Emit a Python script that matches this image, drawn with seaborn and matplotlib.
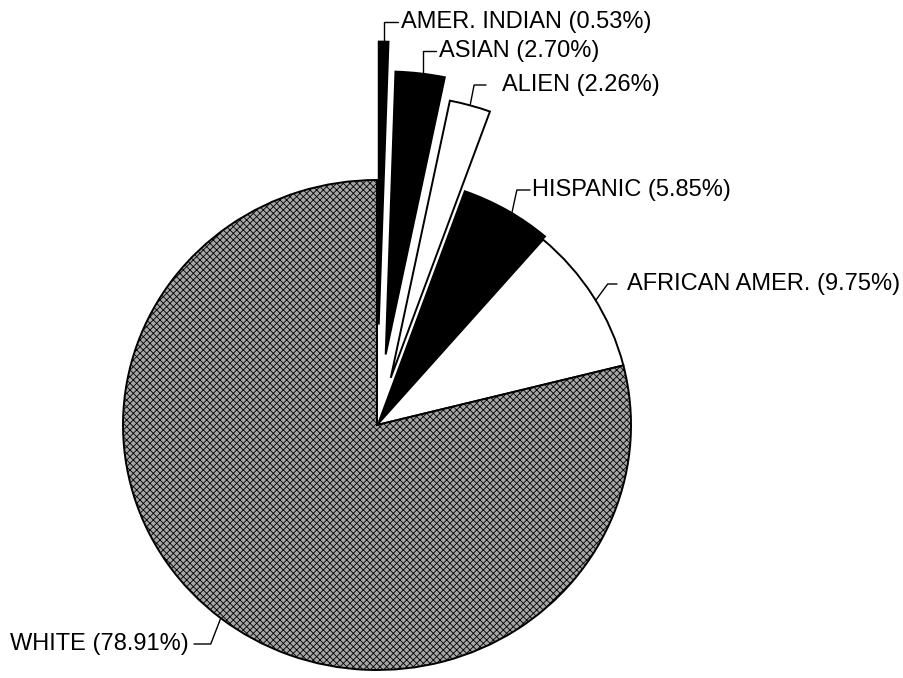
import numpy as np
import matplotlib
matplotlib.use("Agg")
import matplotlib.pyplot as plt
import seaborn as sns

# data
groups = ["AMER. INDIAN", "ASIAN", "ALIEN", "HISPANIC", "AFRICAN AMER.", "WHITE"]
shares = [0.53, 2.70, 2.26, 5.85, 9.75, 78.91]
fills = ["black", "black", "white", "black", "white", "#a6a6a6"]
explode = [0.41, 0.29, 0.20, 0.015, 0.0, 0.0]
grow = [1.155, 1.155, 1.155, 1.0, 1.0, 1.0]

sns.set_theme(style="white")
plt.rcParams["font.family"] = ["Liberation Sans", "DejaVu Sans"]
plt.rcParams["hatch.linewidth"] = 0.6

W, H = 904, 678
CX, CY = 377, 425
RX, RY = 254.0, 245.0   # scanned page is a bit stretched sideways


def px(x, y):
    # pixel position -> data units (pie radius = 1)
    return (x - CX) / RX, (CY - y) / RY


fig = plt.figure(figsize=(W / 100, H / 100), dpi=100)
ax = fig.add_axes([0, 0, 1, 1])

wedges, _ = ax.pie(shares, startangle=90, counterclock=False, explode=explode,
                   colors=fills, radius=1.0,
                   wedgeprops=dict(edgecolor="black", linewidth=1.4))
for w, g in zip(wedges, grow):
    w.set_radius(g)
wedges[-1].set_hatch("xxxxx")

# label placement: fraction along wedge angle, text pixel pos, alignment,
# knee x-offset (px) and gap before the text (px)
spots = [
    (0.5, (401, 22), "left", 0, 3),
    (0.45, (439, 51), "left", 0, 3),
    (0.5, (502, 85), "left", 4, 16),
    (0.44, (532, 190), "left", 5, 2),
    (0.47, (627, 284), "left", 12, 10),
    (0.50, (189, 644), "right", -10, 5),
]

for w, name, val, (f, tpos, ha, knee, gap) in zip(wedges, groups, shares, spots):
    ang = np.deg2rad(w.theta1 + f * (w.theta2 - w.theta1))
    ax0 = w.center[0] + w.r * np.cos(ang)
    ay0 = w.center[1] + w.r * np.sin(ang)
    tx, ty = px(*tpos)
    end = tx - gap / RX if ha == "left" else tx + gap / RX
    ax.plot([ax0, ax0 + knee / RX, end], [ay0, ty, ty], color="black", lw=1.0)
    ax.text(tx, ty, f"{name} ({val:.2f}%)", ha=ha, va="center",
            fontsize=17, color="black")

x0, y0 = px(0, H)
x1, y1 = px(W, 0)
ax.set_aspect("auto")
ax.set_xlim(x0, x1)
ax.set_ylim(y0, y1)
ax.axis("off")

fig.savefig("out.png", dpi=100, facecolor="white")
